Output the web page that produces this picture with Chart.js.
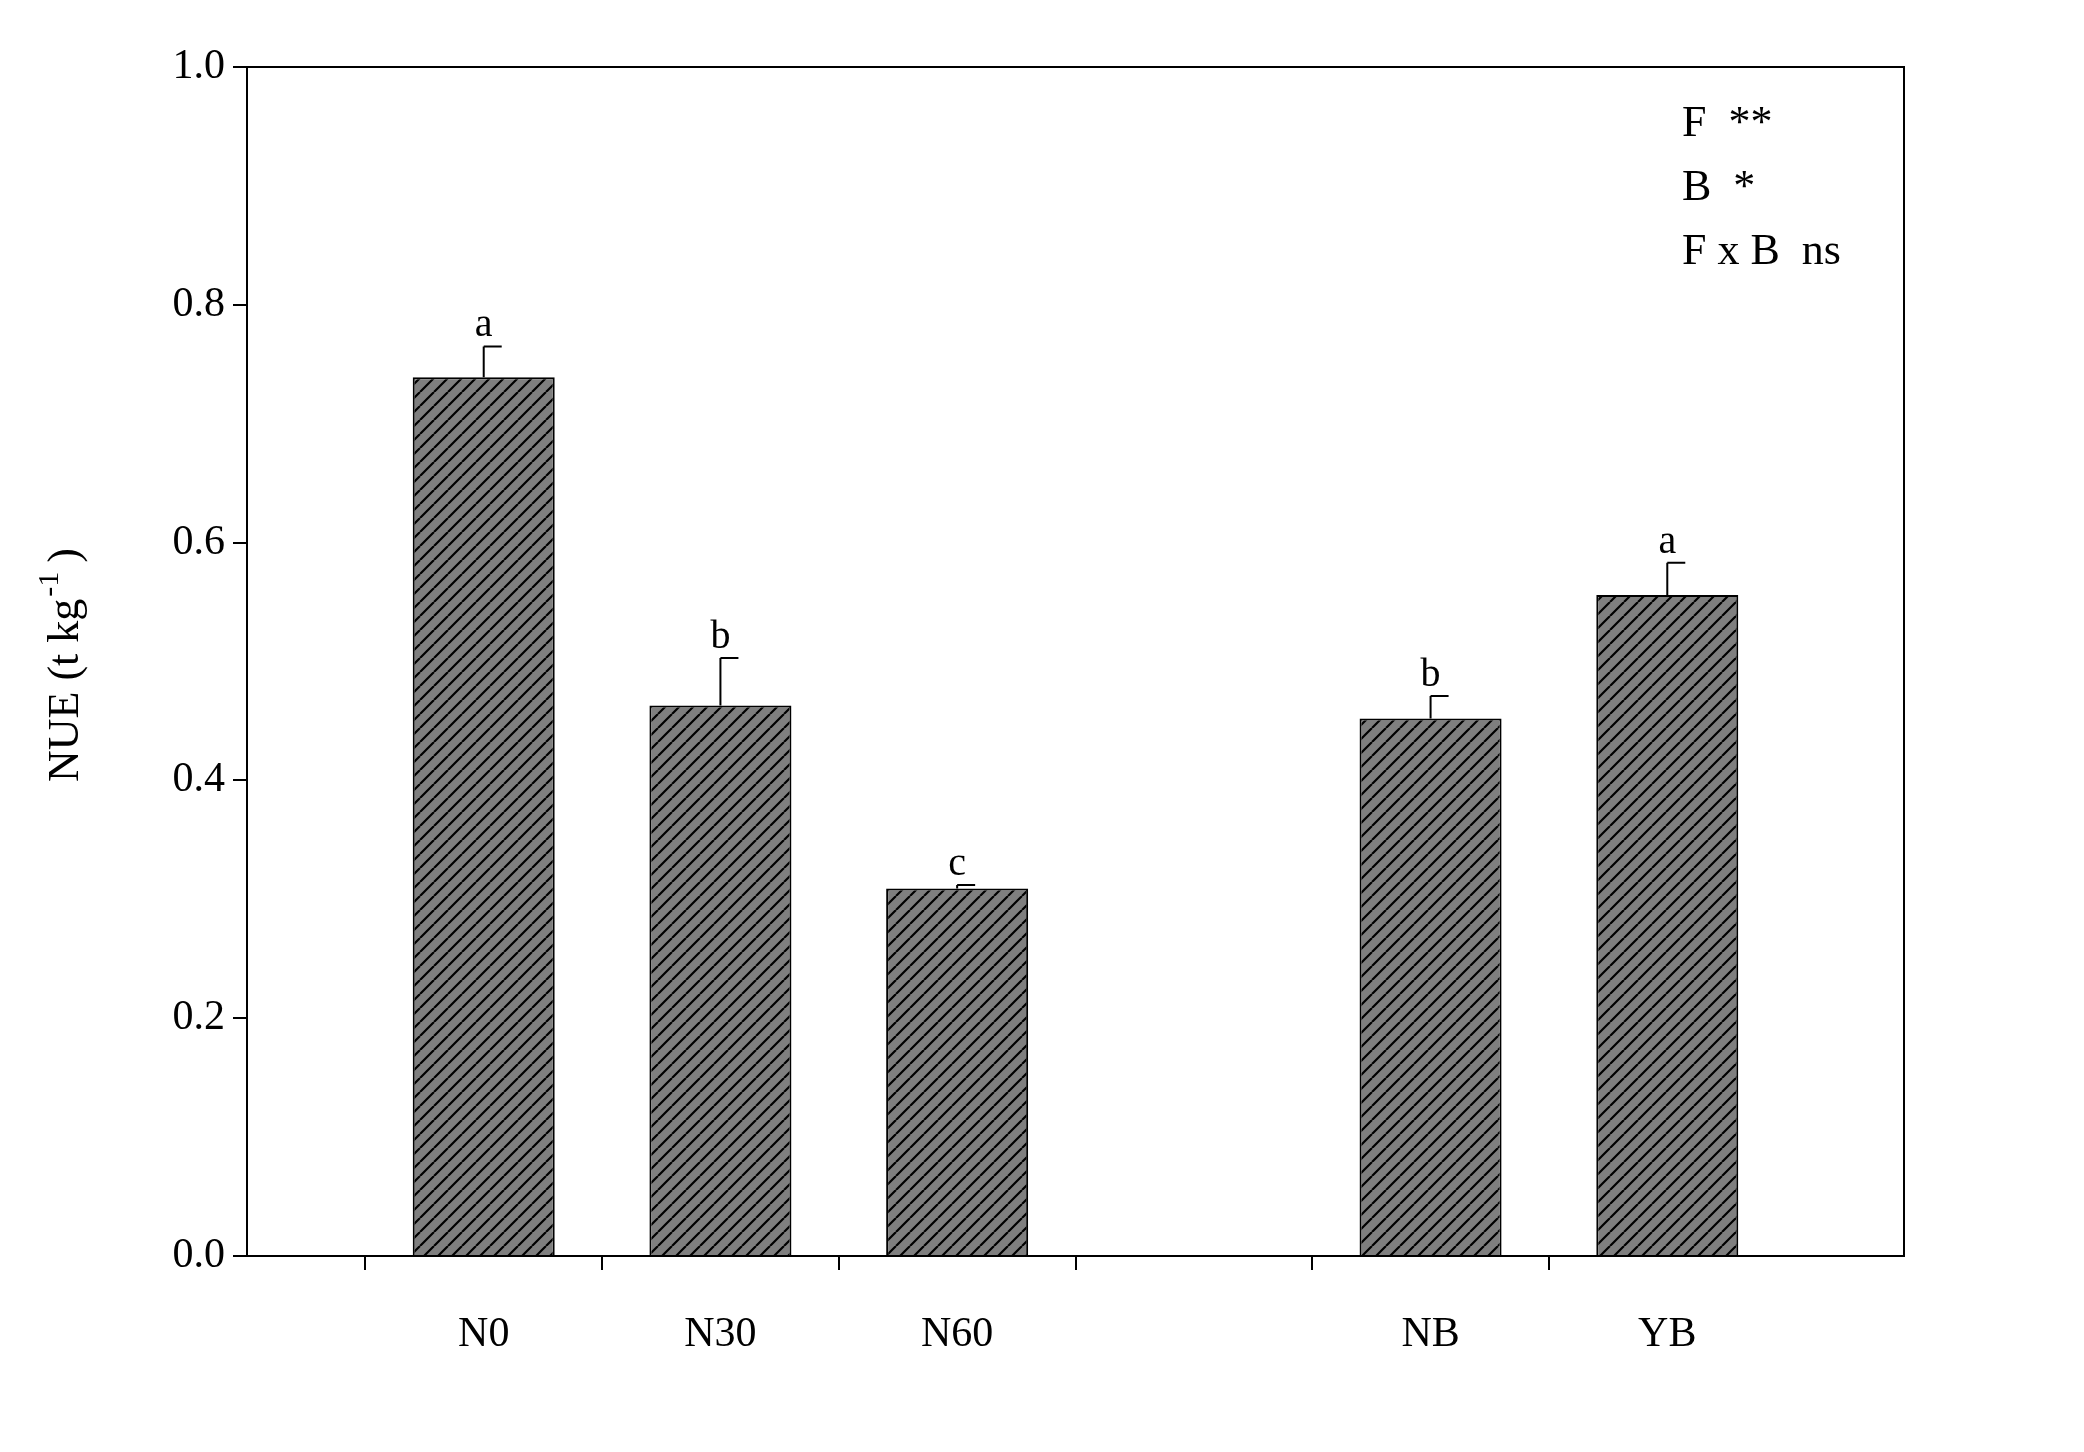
<!DOCTYPE html>
<html><head><meta charset="utf-8">
<script src="https://cdn.jsdelivr.net/npm/chart.js@4"></script>
<style>html,body{margin:0;padding:0;background:#fff}#w{width:2084px;height:1452px}</style>
</head><body><div id="w"><canvas id="c"></canvas></div>
<script>
const categories = ['', 'N0', 'N30', 'N60', '', 'NB', 'YB', ''];
const means = [null, 0.739, 0.463, 0.309, null, 0.452, 0.556, null];
const errors = [null, 0.026, 0.040, 0.003, null, 0.019, 0.027, null];
const letters = ['', 'a', 'b', 'c', '', 'b', 'a', ''];
const yTicks = ['0.0','0.2','0.4','0.6','0.8','1.0'];
const statLines = ['F  **', 'B  *', 'F x B  ns'];

const FONT = '"Liberation Serif","Times New Roman",serif';
function hatch(){
  const s=14, p=document.createElement('canvas'); p.width=s; p.height=s;
  const g=p.getContext('2d'); g.fillStyle='#7f7f7f'; g.fillRect(0,0,s,s);
  g.strokeStyle='#000'; g.lineWidth=2.2;
  g.beginPath();
  for(let k=-1;k<=1;k++){g.moveTo(k*s,s);g.lineTo(k*s+s,0);}
  g.stroke();
  return g.createPattern(p,'repeat');
}
const ctx0=document.getElementById('c').getContext('2d');
const overlay={id:'ov',afterDatasetsDraw(ch){
  const c=ch.ctx,x=ch.scales.x,y=ch.scales.y,a=ch.chartArea;
  c.save();
  c.strokeStyle='#000';c.lineWidth=2;
  c.strokeRect(a.left,a.top,a.right-a.left,a.bottom-a.top);
  c.fillStyle='#000';c.font='40px '+FONT;c.textAlign='center';c.textBaseline='alphabetic';
  means.forEach((m,i)=>{
    if(m==null)return;
    const px=x.getPixelForValue(i),y0=y.getPixelForValue(m),y1=y.getPixelForValue(m+errors[i]);
    c.beginPath();c.moveTo(px,y0);c.lineTo(px,y1);c.moveTo(px,y1);c.lineTo(px+18,y1);c.stroke();
    c.fillText(letters[i],px,y1-10);
  });
  c.textAlign='left';c.font='44px '+FONT;
  statLines.forEach((t,i)=>c.fillText(t,1682,136+i*64));
  c.translate(78,665);c.rotate(-Math.PI/2);
  c.font='44px '+FONT;c.textAlign='left';
  const t1='NUE (t kg',t2='-1',t3=' )';
  const w1=c.measureText(t1).width;c.font='30px '+FONT;const w2=c.measureText(t2).width;
  c.font='44px '+FONT;const w3=c.measureText(t3).width;
  let sx=-(w1+w2+w3)/2;
  c.fillText(t1,sx,0);c.font='30px '+FONT;c.fillText(t2,sx+w1+2,-20);
  c.font='44px '+FONT;c.fillText(t3,sx+w1+w2,0);
  c.restore();
}};
new Chart(ctx0,{type:'bar',
 data:{labels:categories,datasets:[{data:means,backgroundColor:hatch(),borderColor:'#000',borderWidth:2,
   categoryPercentage:1,barPercentage:0.6,borderSkipped:'bottom'}]},
 options:{responsive:true,maintainAspectRatio:false,animation:false,
  layout:{padding:{left:0,top:67,right:180,bottom:0}},
  plugins:{legend:{display:false},tooltip:{enabled:false}},
  scales:{
   x:{offset:false,grid:{display:true,drawOnChartArea:false,tickLength:14,color:'#000',lineWidth:c=>(c.index===0||c.index===7)?0:2},
      border:{display:false},
      ticks:{color:'#000',font:{family:FONT,size:42},padding:40,maxRotation:0,autoSkip:false},
      afterFit(s){s.height=196;}},
   y:{min:0,max:1,grid:{drawOnChartArea:false,tickLength:14,color:'#000',lineWidth:2},border:{display:false},
      ticks:{stepSize:0.2,color:'#000',font:{family:FONT,size:42},padding:8,callback:(v,i)=>yTicks[i]},
      afterFit(s){s.width=247;}}
  }},
 plugins:[overlay]});
</script></body></html>
